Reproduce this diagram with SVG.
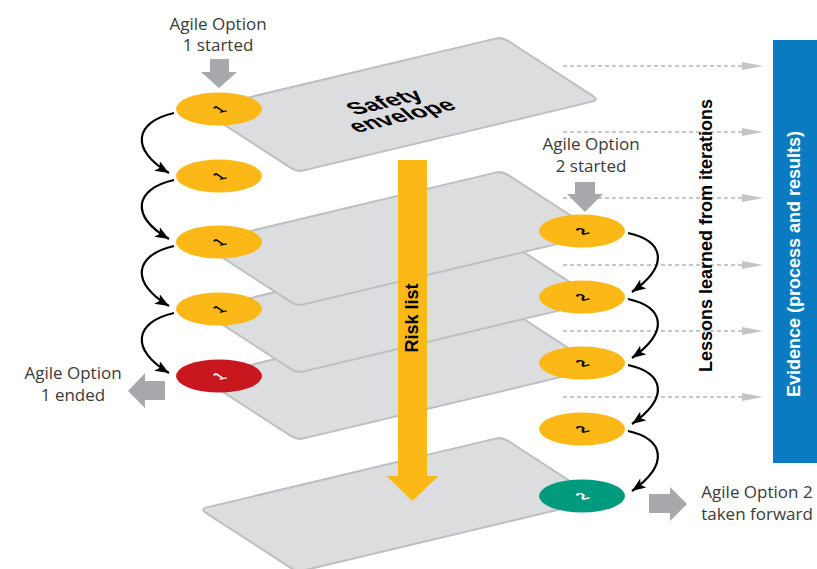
<svg xmlns="http://www.w3.org/2000/svg" width="817" height="569" viewBox="0 0 817 569">
  <style>
    .card{fill:#dcdddf;stroke:#bebfc1;stroke-width:2}
    .lbl{font-family:"Open Sans","Liberation Sans",sans-serif;font-size:17px;fill:#3a3a3a;text-anchor:middle}
    .bold{font-family:"Liberation Sans",Arial,sans-serif;font-weight:bold;font-size:18px;text-anchor:middle}
    .dash{stroke:#b5b5b5;stroke-width:1.5;stroke-dasharray:4 3;fill:none}
    .tri{fill:#c4c4c4}
    .garrow{fill:#a7a9ac}
    .curve{fill:none;stroke:#000;stroke-width:2.2;marker-end:url(#ah)}
    .num{font-family:"Liberation Sans",Arial,sans-serif;font-weight:bold;font-size:15px;text-anchor:middle}
    .yel{fill:#fbb817}
  </style>
  <defs>
    <!-- one plane in oblique projection, top corner at (502,0) -->
    <path id="card" class="card" d="M206.8,70.4 L495.2,1.6 Q502,0 507.9,3.8 L593.1,59.2 Q599,63 592.2,64.6 L303.8,133.4 Q297,135 291.1,131.2 L205.9,75.8 Q200,72 206.8,70.4 Z"/>
    <marker id="ah" markerUnits="userSpaceOnUse" markerWidth="15" markerHeight="11" refX="14" refY="5.5" orient="auto">
      <path d="M0,0 L14,5.5 L0,11 L3.5,5.5 Z" fill="#000"/>
    </marker>
  </defs>

  <!-- lessons learned feeding the evidence -->
  <g id="lessons">
    <path class="dash" d="M563,66H744 M563,132H744 M563,198H744 M563,265H744 M563,331H744 M563,397H744"/>
    <polygon class="tri" points="742,62 763,66 742,70"/>
    <polygon class="tri" points="742,128 763,132 742,136"/>
    <polygon class="tri" points="742,194 763,198 742,202"/>
    <polygon class="tri" points="742,261 763,265 742,269"/>
    <polygon class="tri" points="742,327 763,331 742,335"/>
    <polygon class="tri" points="742,393 763,397 742,401"/>
    <text class="bold" transform="translate(712,235.5) rotate(-90)" fill="#000">Lessons learned from iterations</text>
  </g>

  <!-- stacked planes, bottom first -->
  <g id="plane-final"><use href="#card" y="437"/></g>
  <g id="plane-3"><use href="#card" y="305"/></g>
  <g id="plane-2"><use href="#card" y="238"/></g>
  <g id="plane-1"><use href="#card" y="171"/></g>
  <g id="safety-envelope">
    <use href="#card" y="37"/>
    <g transform="translate(390,107) matrix(0.973,-0.232,0.7,0.65,0,0)" font-family="Liberation Sans, Arial, sans-serif" font-weight="bold" font-size="24" text-anchor="middle" fill="#000">
      <text x="0" y="0">Safety</text>
      <text x="2" y="22">envelope</text>
    </g>
  </g>

  <!-- risk list arrow -->
  <g id="risk-list">
    <rect x="398" y="160" width="29" height="317" class="yel"/>
    <polygon points="386.5,476 438.5,476 412.5,501" class="yel"/>
    <text class="bold" transform="translate(418,318) rotate(-90)" fill="#000">Risk list</text>
  </g>

  <!-- evidence bar -->
  <g id="evidence">
    <rect x="773" y="40" width="44" height="423" fill="#0a7bc1"/>
    <text class="bold" transform="translate(800,264) rotate(-90)" fill="#fff">Evidence (process and results)</text>
  </g>

  <!-- iteration connectors -->
  <g id="connectors">
    <path class="curve" d="M174,113 C134,122 130,150 169,173"/>
    <path class="curve" d="M174,180 C134,189 130,216 169,239"/>
    <path class="curve" d="M174,246 C134,255 130,283 169,306"/>
    <path class="curve" d="M174,313 C134,322 130,350 169,373"/>
    <path class="curve" d="M628,233 C664,241 670,265 632,292"/>
    <path class="curve" d="M628,299 C664,307 670,331 632,358"/>
    <path class="curve" d="M628,365 C664,373 670,397 632,424"/>
    <path class="curve" d="M628,431 C664,439 670,464 632,491"/>
  </g>

  <!-- option 1 iterations -->
  <g id="opt1-it1"><ellipse cx="219" cy="109" rx="43" ry="16.5" class="yel"/><g transform="translate(219,109) matrix(0.973,-0.232,0.839,0.545,0,0)"><text class="num" y="5.5">1</text></g></g>
  <g id="opt1-it2"><ellipse cx="219" cy="176" rx="43" ry="16.5" class="yel"/><g transform="translate(219,176) matrix(0.973,-0.232,0.839,0.545,0,0)"><text class="num" y="5.5">1</text></g></g>
  <g id="opt1-it3"><ellipse cx="219" cy="242" rx="43" ry="16.5" class="yel"/><g transform="translate(219,242) matrix(0.973,-0.232,0.839,0.545,0,0)"><text class="num" y="5.5">1</text></g></g>
  <g id="opt1-it4"><ellipse cx="219" cy="309" rx="43" ry="16.5" class="yel"/><g transform="translate(219,309) matrix(0.973,-0.232,0.839,0.545,0,0)"><text class="num" y="5.5">1</text></g></g>
  <g id="opt1-end"><ellipse cx="219" cy="376" rx="43" ry="16.5" fill="#c8171f"/><g transform="translate(219,376) matrix(0.973,-0.232,0.839,0.545,0,0)"><text class="num" y="5.5" fill="#fff">1</text></g></g>

  <!-- option 2 iterations -->
  <g id="opt2-it1"><ellipse cx="582" cy="231" rx="43" ry="16.5" class="yel"/><g transform="translate(582,231) matrix(0.973,-0.232,0.839,0.545,0,0)"><text class="num" y="5.5">2</text></g></g>
  <g id="opt2-it2"><ellipse cx="582" cy="297" rx="43" ry="16.5" class="yel"/><g transform="translate(582,297) matrix(0.973,-0.232,0.839,0.545,0,0)"><text class="num" y="5.5">2</text></g></g>
  <g id="opt2-it3"><ellipse cx="582" cy="363" rx="43" ry="16.5" class="yel"/><g transform="translate(582,363) matrix(0.973,-0.232,0.839,0.545,0,0)"><text class="num" y="5.5">2</text></g></g>
  <g id="opt2-it4"><ellipse cx="582" cy="429" rx="43" ry="16.5" class="yel"/><g transform="translate(582,429) matrix(0.973,-0.232,0.839,0.545,0,0)"><text class="num" y="5.5">2</text></g></g>
  <g id="opt2-end"><ellipse cx="582" cy="496" rx="43" ry="16.5" fill="#009b7e"/><g transform="translate(582,496) matrix(0.973,-0.232,0.839,0.545,0,0)"><text class="num" y="5.5" fill="#fff">2</text></g></g>

  <!-- start / end markers -->
  <g id="opt1-start">
    <text class="lbl" x="218" y="30">Agile Option</text>
    <text class="lbl" x="218" y="51">1 started</text>
    <polygon class="garrow" points="210,59 229,59 229,72 237,72 219,88 201,72 210,72"/>
  </g>
  <g id="opt2-start">
    <text class="lbl" x="591" y="150">Agile Option</text>
    <text class="lbl" x="591" y="172">2 started</text>
    <polygon class="garrow" points="575,182 595,182 595,194 603,194 585,212 567,194 575,194"/>
  </g>
  <g id="opt1-ended">
    <text class="lbl" x="73" y="379">Agile Option</text>
    <text class="lbl" x="73" y="401">1 ended</text>
    <polygon class="garrow" points="165,381 165,400 145,400 145,408 128,391 145,373 145,381"/>
  </g>
  <g id="opt2-forward">
    <text class="lbl" x="757" y="498">Agile Option 2</text>
    <text class="lbl" x="757" y="520">taken forward</text>
    <polygon class="garrow" points="649,494 670,494 670,487 687,504 670,521 670,513 649,513"/>
  </g>
</svg>
